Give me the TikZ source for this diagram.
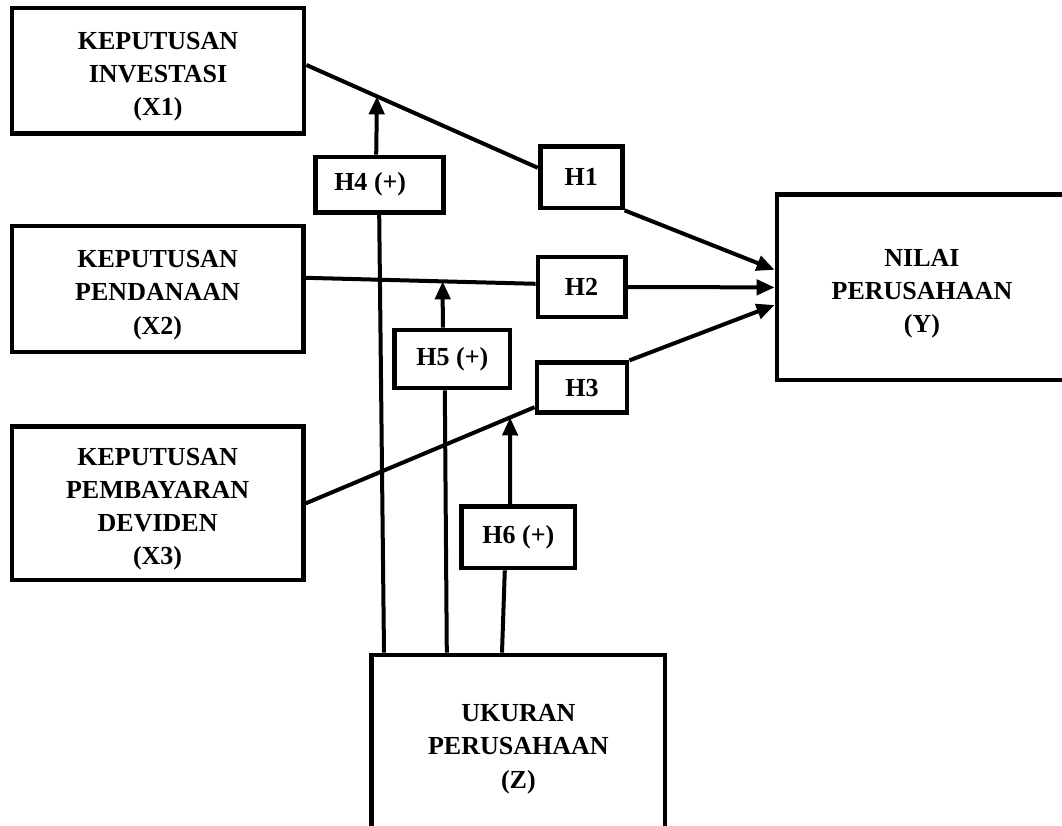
\documentclass[tikz,border=0pt]{standalone}
\usepackage{fontspec}
\setmainfont{Liberation Serif}
\usetikzlibrary{arrows.meta}
\newcommand{\boxtop}{\rule{0pt}{21pt}}

\begin{document}
\begin{tikzpicture}[x=1cm,y=1cm,
  varbox/.style={draw,line width=0.12cm,inner sep=0pt,align=center,
    font=\bfseries\fontsize{18.5}{23.5}\selectfont},
  link/.style={line width=0.1cm},
  linkarrow/.style={link,-{Triangle[length=0.45cm,width=0.38cm]}}]
\path[use as bounding box] (0,0) rectangle (26.55,20.625);
\clip (0,0) rectangle (26.55,20.625);
% variables
\node[varbox,minimum width=7.3cm,minimum height=3.13cm] (X1) at (3.95,18.86) {\boxtop KEPUTUSAN\\INVESTASI\\(X1)};
\node[varbox,minimum width=7.28cm,minimum height=3.15cm] (X2) at (3.94,13.40) {\boxtop KEPUTUSAN\\PENDANAAN\\(X2)};
\node[varbox,minimum width=7.28cm,minimum height=3.83cm] (X3) at (3.94,8.04) {\boxtop KEPUTUSAN\\PEMBAYARAN\\DEVIDEN\\(X3)};
\node[varbox,minimum width=7.25cm,minimum height=4.63cm] (Y) at (23.05,13.44) {\boxtop NILAI\\PERUSAHAAN\\(Y)};
\node[varbox,minimum width=7.33cm,minimum height=4.4cm] (Z) at (12.96,2.05) {\boxtop UKURAN\\PERUSAHAAN\\(Z)};
% hypotheses
\node[varbox,minimum width=2.05cm,minimum height=1.53cm] (H1) at (14.53,16.19) {H1};
\node[varbox,minimum width=2.18cm,minimum height=1.5cm] (H2) at (14.54,13.45) {H2};
\node[varbox,minimum width=2.25cm,minimum height=1.25cm] (H3) at (14.55,10.93) {H3};
\node[varbox,minimum width=3.2cm,minimum height=1.38cm] (H4) at (9.48,16.01) {H4 (+)\hspace*{0.45cm}};
\node[varbox,minimum width=2.88cm,minimum height=1.45cm] (H5) at (11.31,11.65) {H5 (+)};
\node[varbox,minimum width=2.83cm,minimum height=1.53cm] (H6) at (12.96,7.19) {H6 (+)};
% direct paths
\draw[link] ([yshift=0.14cm]X1.east) -- coordinate[pos=0.305] (X1H4) ([yshift=0.24cm]H1.west);
\draw[linkarrow] (H1.south east) -- ([yshift=0.44cm]Y.west);
\draw[link] ([yshift=0.28cm]X2.east) -- coordinate[pos=0.596] (X2H5) ([yshift=0.08cm]H2.west);
\draw[linkarrow] (H2.east) -- (Y.west);
\draw[link] (X3.east) -- coordinate[pos=0.893] (X3H6) ([yshift=0.2cm]H3.south west);
\draw[linkarrow] (H3.north east) -- ([yshift=-0.44cm]Y.west);
% moderation paths
\draw[link] ([xshift=-3.36cm]Z.north) -- (H4.south);
\draw[linkarrow] ([xshift=-0.075cm]H4.north) -- (X1H4);
\draw[link] ([xshift=-1.79cm]Z.north) -- ([xshift=-0.19cm]H5.south);
\draw[linkarrow] ([xshift=-0.24cm]H5.north) -- (X2H5);
\draw[link] ([xshift=-0.41cm]Z.north) -- ([xshift=-0.34cm]H6.south);
\draw[linkarrow] ([xshift=-0.21cm]H6.north) -- (X3H6);
\end{tikzpicture}
\end{document}
